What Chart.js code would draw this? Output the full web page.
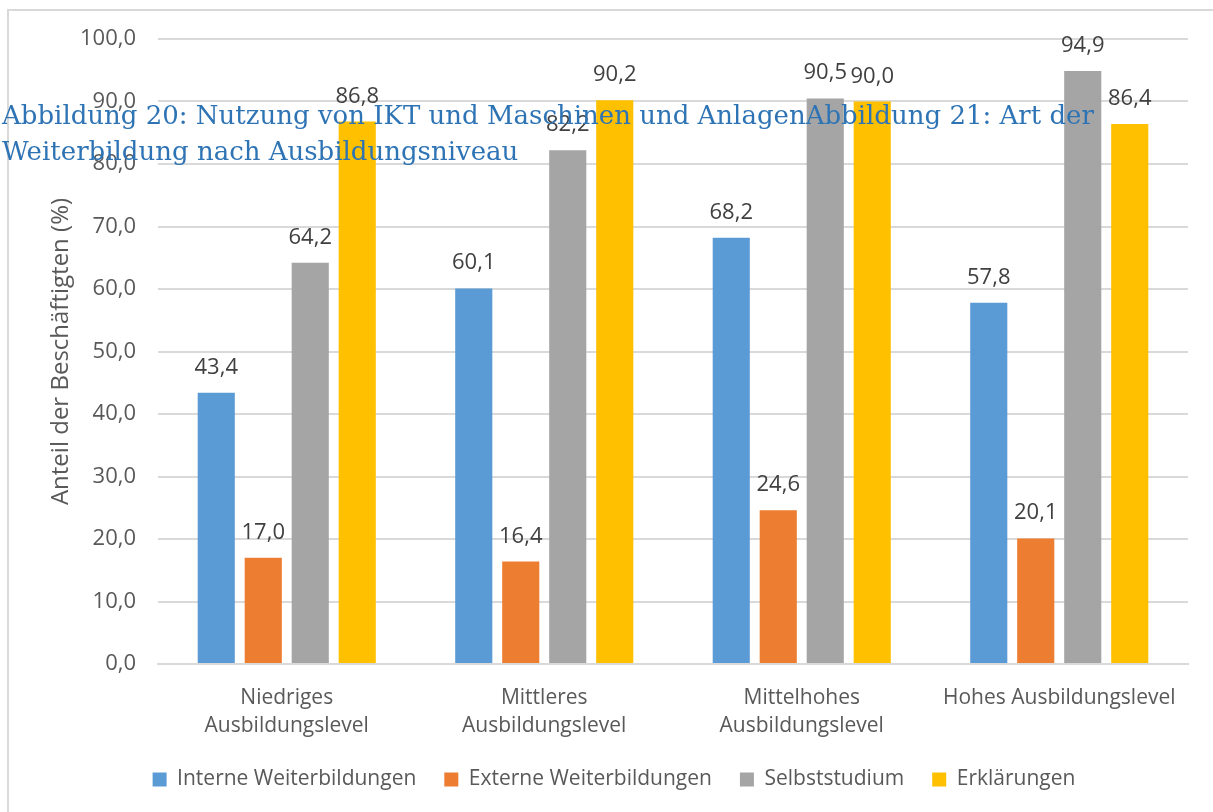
<!DOCTYPE html>
<html>
<head>
<meta charset="utf-8">
<script src="https://cdn.jsdelivr.net/npm/chart.js@4"></script>
<style>
  html, body { margin: 0; padding: 0; background: #fff; }
  #wrap { position: relative; width: 1213px; height: 812px; overflow: hidden; }
  #frame { position: absolute; left: 7px; top: 9px; width: 1240px; height: 840px; border: 2px solid #d9d9d9; box-sizing: border-box; }
  #caption { position: absolute; left: 2px; top: 97px; font-family: "DejaVu Serif", serif; font-size: 26px; line-height: 36px; color: #2e74b5; white-space: nowrap; }
</style>
</head>
<body>
<div id="wrap">
  <div id="frame"></div>
  <canvas id="chart" width="1213" height="812"></canvas>
  <div id="caption">Abbildung 20: Nutzung von IKT und Maschinen und AnlagenAbbildung 21: Art der<br>Weiterbildung nach Ausbildungsniveau</div>
</div>
<script>
const categories = [
    ['Niedriges', 'Ausbildungslevel'],
    ['Mittleres', 'Ausbildungslevel'],
    ['Mittelhohes', 'Ausbildungslevel'],
    'Hohes Ausbildungslevel'
];

const interne = [43.4, 60.1, 68.2, 57.8];
const externe = [17.0, 16.4, 24.6, 20.1];
const selbststudium = [64.2, 82.2, 90.5, 94.9];
const erklaerungen = [86.8, 90.2, 90.0, 86.4];

const blue = '#5b9bd5';
const orange = '#ed7d31';
const gray = '#a5a5a5';
const yellow = '#ffc000';
const textColor = '#595959';

const fontName = '"Open Sans", sans-serif';

function fmt(v) {
    return v.toFixed(1).replace('.', ',');
}

// draws the value above each bar
const valueLabels = {
    id: 'valueLabels',
    afterDatasetsDraw(chart) {
        const ctx = chart.ctx;
        ctx.save();
        ctx.font = '22px ' + fontName;
        ctx.fillStyle = '#404040';
        ctx.textAlign = 'center';
        ctx.textBaseline = 'alphabetic';
        chart.data.datasets.forEach((ds, i) => {
            chart.getDatasetMeta(i).data.forEach((bar, j) => {
                ctx.fillText(fmt(ds.data[j]), bar.x, bar.y - 19);
            });
        });
        ctx.restore();
    }
};

new Chart(document.getElementById('chart'), {
    type: 'bar',
    data: {
        labels: categories,
        datasets: [
            { label: 'Interne Weiterbildungen', data: interne, backgroundColor: blue },
            { label: 'Externe Weiterbildungen', data: externe, backgroundColor: orange },
            { label: 'Selbststudium', data: selbststudium, backgroundColor: gray },
            { label: 'Erklärungen', data: erklaerungen, backgroundColor: yellow }
        ]
    },
    options: {
        responsive: false,
        animation: false,
        categoryPercentage: 0.73,
        barPercentage: 0.79,
        layout: {
            padding: { left: 40, right: 25, top: 39, bottom: 12 }
        },
        plugins: {
            legend: {
                position: 'bottom',
                labels: {
                    color: textColor,
                    font: { family: fontName, size: 21 },
                    boxWidth: 14,
                    boxHeight: 14,
                    padding: 28
                }
            },
            tooltip: { enabled: false }
        },
        scales: {
            x: {
                afterFit(scale) { scale.height = 77; },
                grid: { display: false },
                border: { color: '#d9d9d9', width: 2 },
                ticks: {
                    color: textColor,
                    font: { family: fontName, size: 21, lineHeight: 1.33 },
                    padding: 12,
                    maxRotation: 0
                }
            },
            y: {
                min: 0,
                max: 100,
                afterFit(scale) { scale.width = 118; },
                grid: { color: '#d9d9d9', lineWidth: 2, drawTicks: false },
                border: { display: false },
                ticks: {
                    stepSize: 10,
                    color: textColor,
                    font: { family: fontName, size: 22 },
                    padding: 22,
                    callback: (v) => fmt(v)
                },
                title: {
                    display: true,
                    text: 'Anteil der Beschäftigten (%)',
                    color: textColor,
                    font: { family: fontName, size: 24 },
                    padding: { top: 7, bottom: 0 }
                }
            }
        }
    },
    plugins: [valueLabels]
});
</script>
</body>
</html>
